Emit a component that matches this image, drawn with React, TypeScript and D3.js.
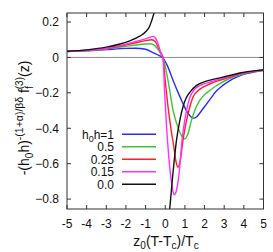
import React, { useEffect, useRef } from 'react';
import * as d3 from 'd3';

type Pt = [number, number];

// series: [z, value]
const blue: Pt[] = [
  [-5, 0.033], [-4, 0.037], [-3, 0.044], [-2, 0.051], [-1.5, 0.052], [-1, 0.046],
  [-0.6, 0.026], [-0.3, 0.01], [-0.1, -0.005], [0.1, -0.045], [0.4, -0.13], [0.7, -0.21],
  [0.9, -0.26], [1.1, -0.305], [1.3, -0.335], [1.45, -0.343], [1.6, -0.335], [1.75, -0.315],
  [1.92, -0.29], [2.26, -0.24], [2.6, -0.19], [2.93, -0.158], [3.27, -0.132], [3.6, -0.113],
  [3.95, -0.097], [4.5, -0.083], [5, -0.074],
];
const green: Pt[] = [
  [-5, 0.034], [-4, 0.039], [-3, 0.048], [-2, 0.063], [-1.5, 0.07], [-1, 0.076],
  [-0.8, 0.077], [-0.6, 0.072], [-0.4, 0.05], [-0.25, 0.025], [-0.1, -0.005], [0.14, -0.13],
  [0.4, -0.3], [0.65, -0.395], [0.82, -0.44], [0.99, -0.46], [1.16, -0.43], [1.33, -0.357],
  [1.5, -0.3], [1.75, -0.244], [2.0, -0.21], [2.26, -0.187], [2.6, -0.16], [3.27, -0.119],
  [3.95, -0.094], [4.5, -0.08], [5, -0.072],
];
const red: Pt[] = [
  [-5, 0.034], [-4, 0.04], [-3, 0.05], [-2, 0.071], [-1.5, 0.083], [-1, 0.095],
  [-0.7, 0.1], [-0.5, 0.088], [-0.35, 0.055], [-0.2, 0.02], [-0.12, 0], [0, -0.13],
  [0.1, -0.24], [0.2, -0.33], [0.3, -0.41], [0.43, -0.5], [0.55, -0.59], [0.65, -0.62],
  [0.75, -0.59], [0.9, -0.47], [1.08, -0.357], [1.25, -0.28], [1.41, -0.225], [1.65, -0.19],
  [1.92, -0.168], [2.26, -0.15], [2.6, -0.135], [3.27, -0.113], [3.95, -0.09], [4.5, -0.079],
  [5, -0.071],
];
const magenta: Pt[] = [
  [-5, 0.034], [-4, 0.04], [-3, 0.051], [-2, 0.075], [-1.5, 0.09], [-1, 0.105],
  [-0.8, 0.113], [-0.62, 0.119], [-0.5, 0.11], [-0.37, 0.078], [-0.25, 0.035], [-0.12, 0],
  [-0.03, -0.2], [0.06, -0.38], [0.18, -0.56], [0.31, -0.7], [0.4, -0.76], [0.48, -0.776],
  [0.57, -0.75], [0.7, -0.66], [0.87, -0.45], [0.99, -0.357], [1.24, -0.23], [1.5, -0.18],
  [1.75, -0.159], [2.26, -0.14], [2.6, -0.128], [3.27, -0.108], [3.95, -0.088], [4.5, -0.077],
  [5, -0.07],
];
const blackLeft: Pt[] = [
  [-5, 0.035], [-4, 0.043], [-3, 0.058], [-2.3, 0.076], [-1.8, 0.094], [-1.3, 0.12],
  [-1, 0.145], [-0.8, 0.175], [-0.7, 0.205], [-0.6, 0.24], [-0.5, 0.29],
];
const blackRight: Pt[] = [
  [0.18, -0.9], [0.23, -0.85], [0.37, -0.68], [0.57, -0.47], [0.74, -0.357], [0.9, -0.28],
  [1.08, -0.225], [1.3, -0.19], [1.58, -0.159], [2.09, -0.134], [2.6, -0.12], [3.27, -0.102],
  [3.95, -0.085], [4.5, -0.076], [5, -0.07],
];

const legendLabels = ['1', '0.5', '0.25', '0.15', '0.0'];
const xTicks = [-5, -4, -3, -2, -1, 0, 1, 2, 3, 4, 5];
const yTicks = [0.2, 0, -0.2, -0.4, -0.6, -0.8];

export default function App() {
  const svgRef = useRef<SVGSVGElement>(null);

  useEffect(() => {
    const svgEl = svgRef.current;
    if (!svgEl) return;
    const svg = d3.select(svgEl);
    svg.selectAll('*').remove();

    const width = 273;
    const height = 252;
    const left = 67, right = 263.5, top = 13, bottom = 209;
    const font = 'Liberation Sans, Arial, Helvetica, sans-serif';

    const x = d3.scaleLinear().domain([-5, 5]).range([left, right]);
    const y = d3.scaleLinear().domain([-0.856, 0.251]).range([bottom, top]);

    svg.attr('width', width).attr('height', height).attr('font-family', font);
    svg.append('rect').attr('width', width).attr('height', height).attr('fill', '#fff');

    svg.append('defs').append('clipPath').attr('id', 'plotclip')
      .append('rect').attr('x', left).attr('y', top)
      .attr('width', right - left).attr('height', bottom - top);

    // zero line
    svg.append('line')
      .attr('x1', left).attr('x2', right).attr('y1', y(0)).attr('y2', y(0))
      .attr('stroke', '#8a8a8a').attr('stroke-width', 1);

    const line = d3.line<Pt>().x(d => x(d[0])).y(d => y(d[1])).curve(d3.curveMonotoneX);
    const curves = svg.append('g').attr('clip-path', 'url(#plotclip)').attr('fill', 'none')
      .attr('stroke-width', 1.4);

    const series: { data: Pt[]; color: string }[] = [
      { data: blue, color: '#2a2aff' },
      { data: green, color: '#3cc43c' },
      { data: red, color: '#ff2020' },
      { data: magenta, color: '#ff30ff' },
      { data: blackLeft, color: '#111' },
      { data: blackRight, color: '#111' },
    ];
    series.forEach(s => {
      curves.append('path').attr('d', line(s.data)).attr('stroke', s.color);
    });

    // frame + ticks (mirrored)
    const axisColor = '#333';
    svg.append('rect')
      .attr('x', left).attr('y', top).attr('width', right - left).attr('height', bottom - top)
      .attr('fill', 'none').attr('stroke', axisColor).attr('stroke-width', 1);

    const tl = 4;
    xTicks.forEach(t => {
      const px = x(t);
      svg.append('line').attr('x1', px).attr('x2', px).attr('y1', bottom).attr('y2', bottom - tl)
        .attr('stroke', axisColor);
      svg.append('line').attr('x1', px).attr('x2', px).attr('y1', top).attr('y2', top + tl)
        .attr('stroke', axisColor);
      svg.append('text').attr('x', px).attr('y', 228).attr('text-anchor', 'middle')
        .attr('font-size', 12).attr('fill', '#111').text(String(t));
    });
    yTicks.forEach(t => {
      const py = y(t);
      svg.append('line').attr('x1', left).attr('x2', left + tl).attr('y1', py).attr('y2', py)
        .attr('stroke', axisColor);
      svg.append('line').attr('x1', right).attr('x2', right - tl).attr('y1', py).attr('y2', py)
        .attr('stroke', axisColor);
      svg.append('text').attr('x', 59).attr('y', py + 4.3).attr('text-anchor', 'end')
        .attr('font-size', 12).attr('fill', '#111').text(t === 0 ? '0' : d3.format('.1f')(t));
    });

    // legend
    const legendColors = ['#2a2aff', '#3cc43c', '#ff2020', '#ff30ff', '#111'];
    legendLabels.forEach((lab, i) => {
      const ly = 134.3 + i * 12.5;
      const txt = svg.append('text').attr('x', 114).attr('y', ly + 4.3)
        .attr('text-anchor', 'end').attr('font-size', 12).attr('fill', '#111');
      if (i === 0) {
        txt.append('tspan').text('h');
        txt.append('tspan').attr('dy', 3).attr('font-size', 9).text('0');
        txt.append('tspan').attr('dy', -3).text('h=' + lab);
      } else {
        txt.text(lab);
      }
      svg.append('line').attr('x1', 122).attr('x2', 156).attr('y1', ly).attr('y2', ly)
        .attr('stroke', legendColors[i]).attr('stroke-width', 1.4);
    });

    // x title
    const xt = svg.append('text').attr('x', 166).attr('y', 245.5).attr('text-anchor', 'middle')
      .attr('font-size', 14).attr('fill', '#111');
    xt.append('tspan').text('z');
    xt.append('tspan').attr('dy', 3).attr('font-size', 10).text('0');
    xt.append('tspan').attr('dy', -3).text('(T-T');
    xt.append('tspan').attr('dy', 3).attr('font-size', 10).text('c');
    xt.append('tspan').attr('dy', -3).text(')/T');
    xt.append('tspan').attr('dy', 3).attr('font-size', 10).text('c');

    // y title
    const yt = svg.append('text').attr('transform', 'translate(29,118) rotate(-90)')
      .attr('text-anchor', 'middle').attr('font-size', 14).attr('fill', '#111');
    yt.append('tspan').text('-(h');
    yt.append('tspan').attr('dy', 3.5).attr('font-size', 10).text('0');
    yt.append('tspan').attr('dy', -3.5).text('h)');
    yt.append('tspan').attr('dy', -6).attr('font-size', 10.5).text('-(1+α)/βδ');
    yt.append('tspan').attr('dy', 6).text(' f');
    yt.append('tspan').attr('dy', 3.5).attr('font-size', 10).text('f');
    yt.append('tspan').attr('dy', -9.5).attr('dx', -3).attr('font-size', 10).text('(3)');
    yt.append('tspan').attr('dy', 6).text('(z)');
  }, []);

  return (
    <svg ref={svgRef} style={{ position: 'absolute', left: 0, top: 0, display: 'block' }} />
  );
}
